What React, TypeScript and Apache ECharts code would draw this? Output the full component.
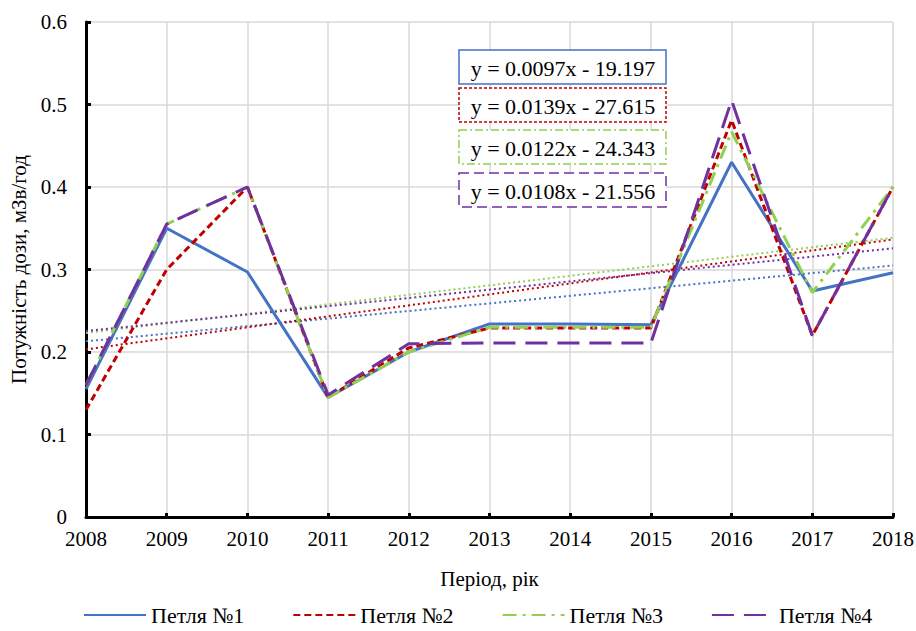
import React, { useEffect, useRef } from "react";
import * as echarts from "echarts";

const years = [2008, 2009, 2010, 2011, 2012, 2013, 2014, 2015, 2016, 2017, 2018];
const loop1 = [0.155, 0.35, 0.297, 0.145, 0.2, 0.234, 0.234, 0.233, 0.43, 0.274, 0.296];
const loop2 = [0.13, 0.3, 0.4, 0.145, 0.205, 0.229, 0.229, 0.229, 0.481, 0.22, 0.4];
const loop3 = [0.16, 0.355, 0.4, 0.145, 0.2, 0.23, 0.23, 0.23, 0.467, 0.272, 0.4];
const loop4 = [0.16, 0.355, 0.4, 0.148, 0.21, 0.211, 0.211, 0.211, 0.505, 0.22, 0.4];
const seriesNames = ["Петля №1", "Петля №2", "Петля №3", "Петля №4"];
const equations = [
  "y = 0.0097x - 19.197",
  "y = 0.0139x - 27.615",
  "y = 0.0122x - 24.343",
  "y = 0.0108x - 21.556",
];
const colors = ["#4472C4", "#C00000", "#92D050", "#7030A0"];
const dashes: any[] = ["solid", [7, 4], [14, 6, 3, 6], [22, 10]];
const boxDashes: any[] = [null, [3, 2], [8, 3, 2, 3], [10, 5]];

function trend(vals: number[]) {
  const n = vals.length;
  const xs = years;
  const mx = xs.reduce((a, b) => a + b, 0) / n;
  const my = vals.reduce((a, b) => a + b, 0) / n;
  let sxy = 0;
  let sxx = 0;
  for (let i = 0; i < n; i++) {
    sxy += (xs[i] - mx) * (vals[i] - my);
    sxx += (xs[i] - mx) * (xs[i] - mx);
  }
  const b = sxy / sxx;
  const a = my - b * mx;
  return [
    [xs[0], a + b * xs[0]],
    [xs[n - 1], a + b * xs[n - 1]],
  ];
}

export default function App() {
  const ref = useRef<HTMLDivElement>(null);
  useEffect(() => {
    if (!ref.current) return;
    document.body.style.margin = "0";
    const chart = echarts.init(ref.current, null, { renderer: "svg" });
    const all = [loop1, loop2, loop3, loop4];
    const font = '"Liberation Serif"';
    const mainSeries = all.map((vals, i) => ({
      name: seriesNames[i],
      type: "line",
      data: vals.map((v, j) => [years[j], v]),
      symbol: "none",
      showSymbol: false,
      lineStyle: { color: colors[i], width: 3, type: dashes[i] },
      itemStyle: { color: colors[i] },
      z: 3,
    }));
    const trendSeries = all.map((vals, i) => ({
      name: "trend" + i,
      type: "line",
      data: trend(vals),
      symbol: "none",
      showSymbol: false,
      lineStyle: { color: colors[i], width: 2, type: [2, 3] },
      z: 2,
    }));
    const boxes: any[] = [];
    const boxTops = [50, 88, 130, 173];
    equations.forEach((eq, i) => {
      boxes.push({
        type: "rect",
        shape: { x: 459, y: boxTops[i], width: 207, height: 34 },
        style: {
          fill: "#ffffff",
          stroke: colors[i],
          lineWidth: 1.5,
          lineDash: boxDashes[i] || undefined,
        },
        z: 10,
      });
      boxes.push({
        type: "text",
        x: 563,
        y: boxTops[i] + 18,
        style: {
          text: eq,
          font: `22px ${font}`,
          fill: "#000",
          textAlign: "center",
          textVerticalAlign: "middle",
        },
        z: 11,
      });
    });
    chart.setOption({
      animation: false,
      backgroundColor: "#ffffff",
      textStyle: { fontFamily: font },
      grid: { left: 86, right: 23, top: 22, bottom: 114, containLabel: false, outerBoundsMode: "none" },
      legend: {
        data: seriesNames,
        bottom: 0,
        left: 78,
        itemWidth: 62,
        itemHeight: 10,
        itemGap: 48,
        itemStyle: { opacity: 0 },
        textStyle: { fontFamily: font, fontSize: 22, color: "#000", padding: [0, 0, 0, 0] },
      },
      xAxis: {
        type: "value",
        min: 2008,
        max: 2018,
        interval: 1,
        name: "Період, рік",
        nameLocation: "middle",
        nameGap: 51,
        nameTextStyle: { fontFamily: font, fontSize: 21, color: "#000" },
        axisLine: { lineStyle: { color: "#000", width: 3 } },
        axisTick: { inside: true, length: 4, lineStyle: { color: "#000", width: 3 } },
        axisLabel: {
          fontFamily: font,
          fontSize: 21,
          color: "#000",
          margin: 11,
          formatter: (v: number) => String(v),
        },
        splitLine: { show: true, lineStyle: { color: "#d9d9d9", width: 1.5 } },
      },
      yAxis: {
        type: "value",
        min: 0,
        max: 0.6,
        interval: 0.1,
        name: "Потужність дози, мЗв/год",
        nameLocation: "middle",
        nameGap: 55,
        nameTextStyle: { fontFamily: font, fontSize: 21, color: "#000" },
        axisLine: { show: true, lineStyle: { color: "#000", width: 3 } },
        axisTick: { show: true, inside: true, length: 5, lineStyle: { color: "#000", width: 3 } },
        axisLabel: {
          fontFamily: font,
          fontSize: 21,
          color: "#000",
          margin: 19,
          formatter: (v: number) => (v === 0 ? "0" : v.toFixed(1)),
        },
        splitLine: { show: true, lineStyle: { color: "#d9d9d9", width: 1.5 } },
      },
      series: [...trendSeries, ...mainSeries],
      graphic: boxes,
    });
    return () => chart.dispose();
  }, []);
  return <div ref={ref} style={{ width: 916, height: 631 }} />;
}
